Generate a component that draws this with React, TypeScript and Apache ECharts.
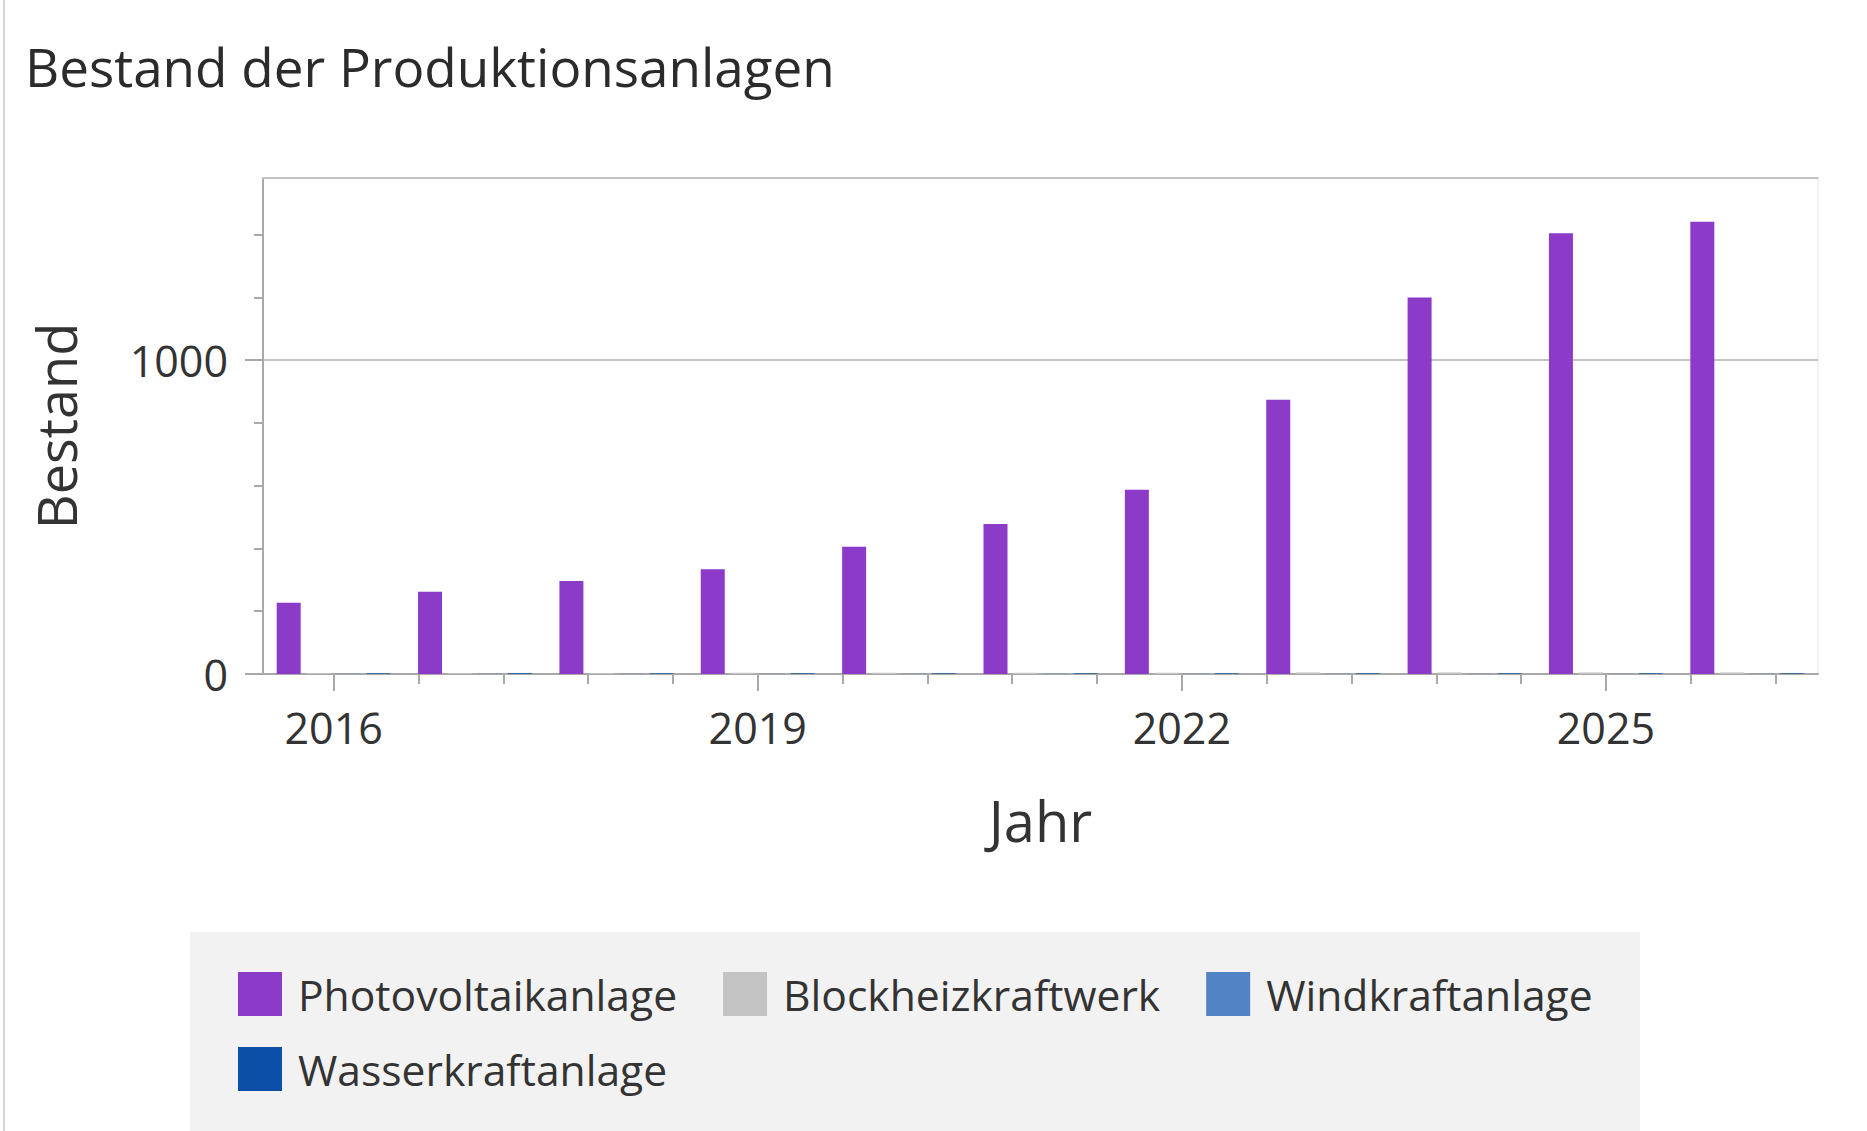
import React, { useEffect, useRef } from "react";
import * as echarts from "echarts";

const TITLE = "Bestand der Produktionsanlagen";
const YEARS = ["2016", "2017", "2018", "2019", "2020", "2021", "2022", "2023", "2024", "2025", "2026"];
const SERIES_NAMES = ["Photovoltaikanlage", "Blockheizkraftwerk", "Windkraftanlage", "Wasserkraftanlage"];
const PV = [227, 262, 296, 334, 405, 478, 587, 874, 1199, 1404, 1441];
const BHKW = [3, 3, 3, 4, 4, 4, 4, 5, 5, 5, 5];
const WIND = [1, 1, 1, 1, 1, 1, 1, 1, 1, 1, 1];
const WASSER = [2, 2, 2, 2, 2, 2, 2, 2, 2, 2, 2];
const COLORS = ["#8c3bc9", "#c3c3c3", "#5283c4", "#0b4fa6"];
const Y_LABELS = [0, 1000];
const Y_MINOR = [200, 400, 600, 800, 1200, 1400];
const X_MINOR = [2016.6, 2017.2, 2017.8, 2018.4, 2019.6, 2020.2, 2020.8, 2021.4, 2022.6, 2023.2, 2023.8, 2024.4, 2025.6, 2026.2];
const Y_MAX = 1580;
const X_MIN = 2015.5;
const X_MAX = 2026.5;

const FONT = "'Open Sans', 'Noto Sans', sans-serif";

export default function App() {
  const ref = useRef<HTMLDivElement>(null);
  useEffect(() => {
    if (!ref.current) return;
    const chart = echarts.init(ref.current, null, { renderer: "svg" });
    const axisColor = "#a9a9a9";
    const textColor = "#333333";
    const seriesData = [PV, BHKW, WIND, WASSER];
    const legendBase = {
      left: 238,
      padding: 0,
      itemWidth: 44,
      itemHeight: 44,
      itemGap: 46,
      icon: "rect",
      textStyle: { fontFamily: FONT, fontSize: 42.6, color: textColor, padding: [0, 0, 0, 11] },
    };
    chart.setOption({
      animation: false,
      backgroundColor: "#ffffff",
      textStyle: { fontFamily: FONT },
      title: {
        text: TITLE,
        left: 25,
        top: 40,
        padding: 0,
        textStyle: { fontFamily: FONT, fontSize: 53, fontWeight: "normal", color: "#2b2b2b" },
      },
      graphic: [
        { type: "line", shape: { x1: 4, y1: 0, x2: 4, y2: 1131 }, style: { stroke: "#d4d4d4", lineWidth: 2 }, z: -10 },
        { type: "rect", shape: { x: 190, y: 932, width: 1450, height: 199 }, style: { fill: "#f2f2f2" }, z: -10 },
      ],
      legend: [
        { ...legendBase, data: SERIES_NAMES.slice(0, 3), top: 972 },
        { ...legendBase, data: SERIES_NAMES.slice(3), top: 1047 },
      ],
      grid: { left: 263, top: 178, width: 1555, height: 496, show: true, borderColor: "#e6e6e6", borderWidth: 1, backgroundColor: "transparent" },
      xAxis: [
        {
          type: "category",
          data: YEARS,
          position: "bottom",
          name: "Jahr",
          nameLocation: "middle",
          nameGap: 118,
          nameTextStyle: { fontFamily: FONT, fontSize: 56, color: textColor },
          axisLine: { show: true, lineStyle: { color: axisColor, width: 2 } },
          axisTick: { show: true, interval: 2, alignWithLabel: true, length: 17, lineStyle: { color: axisColor, width: 2 } },
          axisLabel: { interval: 2, margin: 32, fontFamily: FONT, fontSize: 43, color: textColor },
          splitLine: { show: false },
        },
        {
          type: "value",
          min: X_MIN,
          max: X_MAX,
          position: "bottom",
          axisLine: { show: false },
          axisTick: { show: true, customValues: X_MINOR, length: 10, lineStyle: { color: axisColor, width: 2 } },
          axisLabel: { show: false },
          splitLine: { show: false },
        },
        {
          type: "value",
          min: X_MIN,
          max: X_MAX,
          position: "top",
          axisLine: { show: true, lineStyle: { color: "#c4c4c4", width: 2 } },
          axisTick: { show: false },
          axisLabel: { show: false },
          splitLine: { show: false },
        },
      ],
      yAxis: [
        {
          type: "value",
          min: 0,
          max: Y_MAX,
          interval: 1000,
          position: "left",
          name: "Bestand",
          nameLocation: "middle",
          nameGap: 180,
          nameRotate: 90,
          nameTextStyle: { fontFamily: FONT, fontSize: 54, color: textColor },
          axisLine: { show: true, lineStyle: { color: axisColor, width: 2 } },
          axisTick: { show: true, customValues: Y_LABELS, length: 18, lineStyle: { color: axisColor, width: 2 } },
          axisLabel: {
            customValues: Y_LABELS,
            margin: 35,
            fontFamily: FONT,
            fontSize: 43,
            color: textColor,
            formatter: (v: number) => String(v),
          },
          splitLine: { show: true, lineStyle: { color: "#c4c4c4", width: 2 } },
        },
        {
          type: "value",
          min: 0,
          max: Y_MAX,
          position: "left",
          axisLine: { show: false },
          axisTick: { show: true, customValues: Y_MINOR, length: 9, lineStyle: { color: axisColor, width: 2 } },
          axisLabel: { show: false },
          splitLine: { show: false },
        },
      ],
      series: SERIES_NAMES.map((name, i) => ({
        name,
        type: "bar",
        xAxisIndex: 0,
        yAxisIndex: 0,
        data: seriesData[i],
        barWidth: 24,
        barGap: "25%",
        itemStyle: { color: COLORS[i] },
      })),
    });
    return () => chart.dispose();
  }, []);
  return (
    <div
      ref={ref}
      style={{ position: "absolute", left: 0, top: 0, width: 1867, height: 1131, background: "#fff" }}
    />
  );
}
